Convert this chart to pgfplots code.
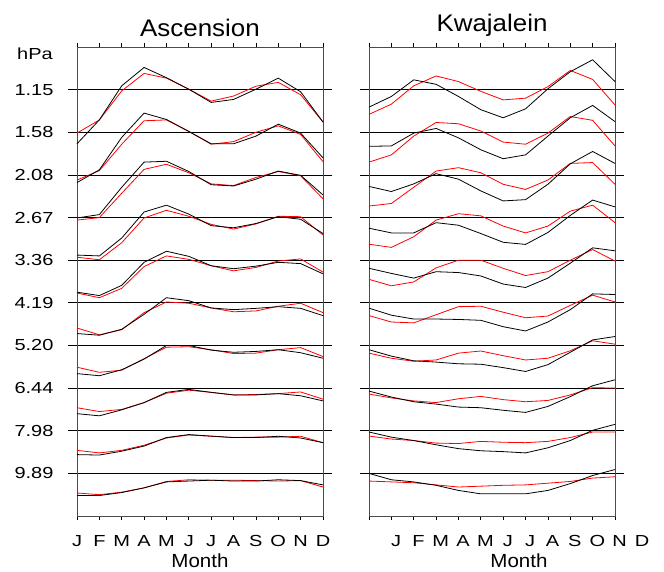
\documentclass[border=0pt]{standalone}
\usepackage{fontspec}
\setmainfont{Liberation Sans}
\newfontfamily\tickfont[FakeStretch=1.25]{Liberation Sans}
\newfontfamily\labfont[FakeStretch=1.08]{Liberation Sans}
\usepackage{pgfplots}
\usepackage{pgfplotstable}
\pgfplotsset{compat=1.18}

% offsets from each pressure level line (units of level spacing); m = month 0..11
\pgfplotstableread{
m c0 c1 c2 c3 c4 c5 c6 c7 c8 c9
0 -1.27 -1.18 -1.01 -0.88 -0.75 -0.72 -0.66 -0.60 -0.56 -0.52
1 -0.71 -0.88 -0.93 -0.90 -0.83 -0.76 -0.71 -0.65 -0.57 -0.52
2 0.09 -0.12 -0.29 -0.48 -0.59 -0.62 -0.57 -0.51 -0.48 -0.45
3 0.52 0.45 0.30 0.13 -0.05 -0.27 -0.32 -0.34 -0.36 -0.34
4 0.28 0.30 0.32 0.29 0.21 0.12 0.00 -0.10 -0.16 -0.20
5 0.01 0.02 0.08 0.08 0.09 0.05 0.00 -0.03 -0.09 -0.18
6 -0.30 -0.27 -0.23 -0.19 -0.13 -0.12 -0.11 -0.10 -0.125 -0.16
7 -0.23 -0.27 -0.26 -0.24 -0.20 -0.16 -0.16 -0.16 -0.16 -0.18
8 0.01 -0.09 -0.10 -0.14 -0.14 -0.13 -0.14 -0.16 -0.16 -0.18
9 0.27 0.19 0.09 0.02 -0.05 -0.09 -0.10 -0.13 -0.13 -0.15
10 -0.05 -0.02 -0.01 -0.04 -0.08 -0.13 -0.17 -0.18 -0.17 -0.17
11 -0.76 -0.60 -0.47 -0.375 -0.32 -0.30 -0.30 -0.30 -0.28 -0.27
}\AscB
\pgfplotstableread{
m c0 c1 c2 c3 c4 c5 c6 c7 c8 c9
0 -1.02 -1.12 -1.06 -0.93 -0.77 -0.59 -0.51 -0.46 -0.46 -0.46
1 -0.71 -0.90 -1.00 -0.99 -0.88 -0.75 -0.63 -0.55 -0.52 -0.50
2 -0.03 -0.28 -0.43 -0.59 -0.66 -0.63 -0.58 -0.50 -0.46 -0.44
3 0.38 0.27 0.13 -0.01 -0.15 -0.23 -0.31 -0.34 -0.34 -0.34
4 0.27 0.29 0.25 0.17 0.10 0.02 -0.04 -0.12 -0.17 -0.19
5 0.01 0.02 0.05 0.03 0.02 -0.01 -0.03 -0.05 -0.10 -0.15
6 -0.27 -0.28 -0.21 -0.16 -0.13 -0.12 -0.10 -0.10 -0.13 -0.16
7 -0.15 -0.22 -0.25 -0.27 -0.25 -0.21 -0.19 -0.16 -0.16 -0.16
8 0.08 0.00 -0.06 -0.15 -0.17 -0.19 -0.18 -0.15 -0.15 -0.17
9 0.17 0.15 0.08 0.03 -0.02 -0.08 -0.10 -0.13 -0.15 -0.18
10 -0.12 -0.05 -0.02 0.02 0.03 -0.01 -0.05 -0.09 -0.13 -0.17
11 -0.76 -0.69 -0.56 -0.41 -0.28 -0.23 -0.26 -0.26 -0.28 -0.32
}\AscR
\pgfplotstableread{
m c0 c1 c2 c3 c4 c5 c6 c7 c8 c9
0 -0.41 -0.33 -0.27 -0.25 -0.19 -0.125 -0.10 -0.07 -0.03 0.00
1 -0.16 -0.32 -0.39 -0.36 -0.31 -0.29 -0.25 -0.21 -0.15 -0.15
2 0.23 -0.02 -0.21 -0.36 -0.42 -0.38 -0.36 -0.32 -0.23 -0.20
3 0.125 0.09 0.03 -0.12 -0.27 -0.38 -0.39 -0.375 -0.33 -0.28
4 -0.16 -0.13 -0.10 -0.18 -0.29 -0.39 -0.43 -0.445 -0.42 -0.40
5 -0.47 -0.41 -0.375 -0.375 -0.37 -0.41 -0.44 -0.46 -0.47 -0.48
6 -0.66 -0.62 -0.61 -0.58 -0.56 -0.56 -0.52 -0.52 -0.49 -0.48
7 -0.45 -0.53 -0.58 -0.63 -0.64 -0.66 -0.61 -0.57 -0.52 -0.48
8 0.02 -0.09 -0.22 -0.35 -0.42 -0.45 -0.45 -0.43 -0.40 -0.40
9 0.42 0.34 0.26 0.05 -0.07 -0.16 -0.16 -0.20 -0.23 -0.24
10 0.70 0.63 0.55 0.41 0.29 0.21 0.13 0.055 0.01 -0.05
11 0.19 0.25 0.27 0.25 0.22 0.195 0.21 0.195 0.15 0.09
}\KwaB
\pgfplotstableread{
m c0 c1 c2 c3 c4 c5 c6 c7 c8 c9
0 -0.58 -0.70 -0.73 -0.625 -0.45 -0.30 -0.18 -0.14 -0.125 -0.18
1 -0.34 -0.53 -0.67 -0.70 -0.60 -0.45 -0.30 -0.23 -0.195 -0.20
2 0.09 -0.09 -0.29 -0.45 -0.51 -0.47 -0.37 -0.30 -0.23 -0.22
3 0.32 0.23 0.09 -0.06 -0.18 -0.28 -0.34 -0.34 -0.29 -0.27
4 0.19 0.20 0.17 0.09 0.00 -0.09 -0.18 -0.25 -0.30 -0.32
5 -0.04 0.03 0.05 0.04 0.00 -0.08 -0.13 -0.195 -0.25 -0.30
6 -0.24 -0.23 -0.22 -0.20 -0.19 -0.22 -0.24 -0.27 -0.27 -0.28
7 -0.20 -0.28 -0.34 -0.36 -0.36 -0.35 -0.34 -0.32 -0.28 -0.27
8 0.07 -0.02 -0.12 -0.20 -0.27 -0.31 -0.30 -0.29 -0.25 -0.23
9 0.45 0.37 0.27 0.15 0.00 -0.06 -0.125 -0.16 -0.16 -0.19
10 0.24 0.28 0.29 0.29 0.25 0.18 0.11 0.01 -0.03 -0.11
11 -0.36 -0.32 -0.22 -0.12 -0.02 0.02 0.03 0.00 -0.03 -0.08
}\KwaR

\pgfplotsset{
  panel/.style={
    width=246pt, height=469pt, scale only axis,
    anchor=south west,
    xmin=0, xmax=11, ymin=-10, ymax=1,
    xtick={0,...,11},
    xticklabels={J,F,M,A,M,J,J,A,S,O,N,D},
    ytick={0,-1,-2,-3,-4,-5,-6,-7,-8,-9},
    xtick pos=both, ytick pos=both,
    tick align=outside,
    major tick length=9pt,
    xtick style={/pgfplots/major tick length=4pt},
    ymajorgrids,
    grid style={black, line width=0.7pt},
    axis line style={black!70, line width=0.9pt},
    tick style={black, line width=0.7pt},
    xticklabel style={font=\tickfont\fontsize{16}{16}\selectfont, yshift=-7pt},
    yticklabel style={font=\tickfont\fontsize{16}{16}\selectfont, xshift=-11pt},
    xlabel={Month},
    xlabel style={font=\labfont\fontsize{19}{19}\selectfont, inner sep=0pt,
      at={(axis description cs:0.5,0)}, anchor=base, yshift=-51pt},
    title style={font=\labfont\fontsize{24}{24}\selectfont, yshift=1pt},
    /pgf/number format/assume math mode=true,
    clip=false,
  },
  bl/.style={black, line width=0.8pt},
  rd/.style={red, line width=0.8pt},
}

\begin{document}
\begin{tikzpicture}
\useasboundingbox (0,0) rectangle (664pt,-571pt);
\begin{axis}[panel, at={(77pt,-516pt)}, title={Ascension},
  yticklabels={1.15,1.58,2.08,2.67,3.36,4.19,5.20,6.44,7.98,9.89}]
  \pgfplotsinvokeforeach{0,...,9}{
    \addplot[rd] table[x=m, y expr=\thisrow{c#1}-#1] {\AscR};
    \addplot[bl] table[x=m, y expr=\thisrow{c#1}-#1] {\AscB};
  }
  \node[anchor=east, font=\tickfont\fontsize{16}{16}\selectfont, inner sep=0pt] at (axis cs:0,0.85) [xshift=-24pt] {hPa};
\end{axis}
\begin{axis}[panel, at={(369pt,-516pt)}, title={Kwajalein},
  yticklabels={},
  xticklabel style={xshift=27pt},
  xlabel style={xshift=27pt}]
  \pgfplotsinvokeforeach{0,...,9}{
    \addplot[rd] table[x=m, y expr=\thisrow{c#1}-#1] {\KwaR};
    \addplot[bl] table[x=m, y expr=\thisrow{c#1}-#1] {\KwaB};
  }
\end{axis}
\end{tikzpicture}
\end{document}
